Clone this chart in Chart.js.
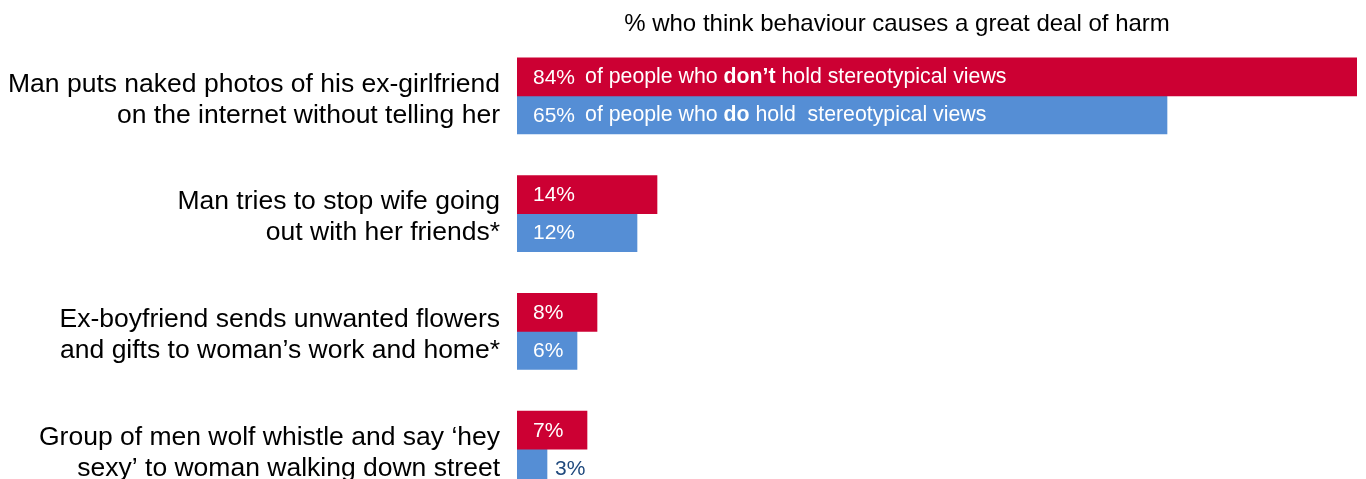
<!DOCTYPE html>
<html>
<head>
<meta charset="utf-8">
<script src="https://cdn.jsdelivr.net/npm/chart.js@4/dist/chart.umd.min.js"></script>
<style>
  html, body { margin: 0; padding: 0; background: #fff; overflow: hidden; }
  #wrap { width: 1366px; height: 479px; overflow: hidden; }
  canvas { display: block; }
</style>
</head>
<body>
<div id="wrap"><canvas id="harm_chart" width="1366" height="516"></canvas></div>
<script>
// behaviours, each label split into its two lines
var categories = [
    ['Man puts naked photos of his ex-girlfriend', 'on the internet without telling her'],
    ['Man tries to stop wife going', 'out with her friends*'],
    ['Ex-boyfriend sends unwanted flowers', 'and gifts to woman\u2019s work and home*'],
    ['Group of men wolf whistle and say \u2018hey', 'sexy\u2019 to woman walking down street']
];
// % who think behaviour causes a great deal of harm
var dontHoldViews = [84, 14, 8, 7];
var doHoldViews = [65, 12, 6, 3];
// series descriptions written after the first pair of values (bold part in the middle)
var dontNote = ['of people who ', 'don\u2019t', ' hold stereotypical views'];
var doNote = ['of people who ', 'do', ' hold  stereotypical views'];
var chartTitle = '% who think behaviour causes a great deal of harm';

var FONT = '"Liberation Sans", Arial, sans-serif';

var barText = {
    id: 'barText',
    afterDatasetsDraw: function(chart) {
        var ctx = chart.ctx;
        var yScale = chart.scales.y;
        ctx.save();
        ctx.textBaseline = 'middle';

        // title
        ctx.fillStyle = '#000';
        ctx.font = '24px ' + FONT;
        ctx.textAlign = 'center';
        ctx.fillText(chartTitle, 897, 24);

        // category labels, right aligned against the bars
        ctx.textAlign = 'right';
        ctx.font = '26.5px ' + FONT;
        chart.data.labels.forEach(function(lines, i) {
            var cy = yScale.getPixelForValue(i) + 4;
            var top = cy - (lines.length - 1) * 31 / 2;
            lines.forEach(function(line, li) {
                ctx.fillText(line, chart.chartArea.left - 17, top + li * 31);
            });
        });

        ctx.textAlign = 'left';
        chart.data.datasets.forEach(function(ds, di) {
            chart.getDatasetMeta(di).data.forEach(function(bar, i) {
                var text = ds.data[i] + '%';
                ctx.font = '21px ' + FONT;
                var w = ctx.measureText(text).width;
                var x, colour;
                if (bar.x - bar.base > w + 20) {
                    x = bar.base + 16;
                    colour = '#fff';
                } else {
                    x = bar.x + 8;
                    colour = '#1F497D';
                }
                ctx.fillStyle = colour;
                ctx.fillText(text, x, bar.y + 1);

                // series description next to the first category's values
                if (i === 0) {
                    var note = di === 0 ? dontNote : doNote;
                    var nx = x + w + 10;
                    note.forEach(function(part, pi) {
                        ctx.font = (pi === 1 ? 'bold ' : '') + '21.3px ' + FONT;
                        ctx.fillText(part, nx, bar.y);
                        nx += ctx.measureText(part).width;
                    });
                }
            });
        });
        ctx.restore();
    }
};

function init() {
    var ctx = document.getElementById('harm_chart').getContext('2d');
    var chart = new Chart(ctx, {
        type: 'bar',
        data: {
            labels: categories,
            datasets: [{
                label: 'Don\u2019t hold stereotypical views',
                data: dontHoldViews,
                backgroundColor: '#CC0033',
                barThickness: 38
            }, {
                label: 'Do hold stereotypical views',
                data: doHoldViews,
                backgroundColor: '#558ED5',
                barThickness: 38
            }]
        },
        options: {
            indexAxis: 'y',
            responsive: false,
            animation: false,
            devicePixelRatio: 1,
            layout: {
                padding: { top: 37, bottom: 8, left: 517, right: 9 }
            },
            plugins: {
                legend: { display: false },
                tooltip: { enabled: false }
            },
            scales: {
                x: {
                    display: false,
                    min: 0,
                    max: 84
                },
                y: {
                    display: false
                }
            }
        },
        plugins: [barText]
    });
}

window.onload = init;
</script>
</body>
</html>
